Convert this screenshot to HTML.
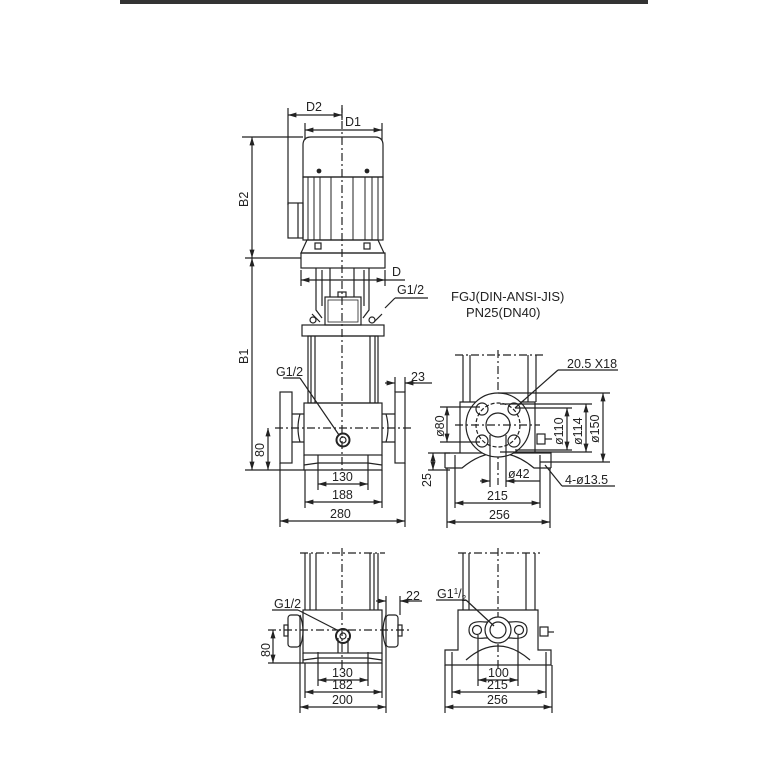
<!DOCTYPE html>
<html><head><meta charset="utf-8"><style>
html,body{margin:0;padding:0;background:#fff;}
svg{display:block;}
text{font-family:"Liberation Sans",sans-serif;fill:#222;}
</style></head><body>
<svg width="768" height="768" viewBox="0 0 768 768" xmlns="http://www.w3.org/2000/svg">
<defs>
<marker id="a" viewBox="0 0 10 10" refX="10" refY="5" markerWidth="7" markerHeight="7" orient="auto-start-reverse"><path d="M0,2 L10,5 L0,8 z" fill="#222"/></marker>
</defs>
<rect x="120" y="0" width="528" height="4" fill="#333"/>
<g stroke="#222" stroke-width="1.2" fill="none">
<line x1="342" y1="105" x2="342" y2="470" stroke-dasharray="8,3,2,3"/>
<path d="M303,177 L303,145 Q303,137 311,137 L375,137 Q383,137 383,145 L383,177 Z"/>
<rect x="303" y="177" width="80" height="63"/>
<g stroke-width="1">
<line x1="308" y1="177" x2="308" y2="240"/><line x1="314" y1="177" x2="314" y2="240"/>
<line x1="320" y1="177" x2="320" y2="240"/><line x1="331" y1="177" x2="331" y2="240"/>
<line x1="353" y1="177" x2="353" y2="240"/><line x1="365" y1="177" x2="365" y2="240"/>
<line x1="372" y1="177" x2="372" y2="240"/><line x1="378" y1="177" x2="378" y2="240"/>
</g>
<circle cx="319" cy="171" r="1.8" fill="#222"/><circle cx="367" cy="171" r="1.8" fill="#222"/>
<rect x="288" y="203" width="15" height="35"/><line x1="298" y1="203" x2="298" y2="238"/>
<path d="M307,240 L378,240 L384,253 L301,253 Z"/>
<rect x="315" y="243" width="6" height="6"/><rect x="364" y="243" width="6" height="6"/>
<rect x="301" y="253" width="84" height="15"/>
<path d="M316,268 L316,310 L322,318 M369,268 L369,310 L363,318"/>
<path d="M322,270 L322,306 M364,270 L364,306"/>
<line x1="330" y1="268" x2="330" y2="297"/><line x1="354" y1="268" x2="354" y2="297"/>
<rect x="325" y="297" width="36" height="28"/>
<rect x="328" y="300" width="30" height="22" stroke-width="0.8"/>
<rect x="338" y="292" width="8" height="5"/>
<path d="M312,314 L320,322 M374,322 L382,314"/>
<circle cx="313" cy="320" r="3"/><circle cx="372" cy="320" r="3"/>
<rect x="302" y="325" width="82" height="11"/>
<rect x="308" y="336" width="70" height="67"/>
<line x1="311" y1="336" x2="311" y2="403"/><line x1="315" y1="336" x2="315" y2="403"/>
<line x1="370" y1="336" x2="370" y2="403"/><line x1="375" y1="336" x2="375" y2="403"/>
<rect x="304" y="403" width="78" height="52"/>
<path d="M304,455 L304,470 L382,470 L382,455"/>
<path d="M304,465 L318,463 L368,463 L382,465"/>
<rect x="280" y="392" width="12" height="71"/><path d="M292,414 L304,414 M292,442 L304,442 M300,414 Q296,428 300,442"/>
<rect x="395" y="392" width="10" height="71"/><path d="M382,414 L395,414 M382,442 L395,442 M386,414 Q390,428 386,442"/>
<line x1="275" y1="428" x2="412" y2="428" stroke-dasharray="8,3,2,3"/>
<circle cx="343" cy="440" r="6.5" stroke-width="2"/><circle cx="343" cy="440" r="3"/>
<line x1="283" y1="378" x2="300" y2="378"/><line x1="300" y1="378" x2="339" y2="435"/>
<line x1="288" y1="108" x2="288" y2="205"/><line x1="342" y1="108" x2="342" y2="120"/>
<line x1="288" y1="115" x2="342" y2="115" marker-start="url(#a)" marker-end="url(#a)"/>
<line x1="305" y1="123" x2="305" y2="140"/><line x1="382" y1="123" x2="382" y2="140"/>
<line x1="305" y1="130" x2="382" y2="130" marker-start="url(#a)" marker-end="url(#a)"/>
<line x1="242" y1="137" x2="303" y2="137"/><line x1="245" y1="258" x2="301" y2="258"/>
<line x1="252" y1="137" x2="252" y2="258" marker-start="url(#a)" marker-end="url(#a)"/>
<line x1="252" y1="258" x2="252" y2="470" marker-start="url(#a)" marker-end="url(#a)"/>
<line x1="245" y1="470" x2="304" y2="470"/>
<line x1="268" y1="428" x2="268" y2="470" marker-start="url(#a)" marker-end="url(#a)"/>
<line x1="301" y1="270" x2="301" y2="286"/><line x1="385" y1="270" x2="385" y2="286"/>
<line x1="301" y1="280" x2="385" y2="280" marker-start="url(#a)" marker-end="url(#a)"/>
<line x1="385" y1="280" x2="405" y2="280"/>
<line x1="385" y1="308" x2="395" y2="298"/><line x1="395" y1="298" x2="428" y2="298"/>
<line x1="395" y1="377" x2="395" y2="392"/><line x1="405" y1="377" x2="405" y2="392"/>
<line x1="385" y1="383" x2="395" y2="383" marker-end="url(#a)"/><line x1="415" y1="383" x2="405" y2="383" marker-end="url(#a)"/>
<line x1="405" y1="383" x2="432" y2="383"/>
<line x1="318" y1="455" x2="318" y2="490"/><line x1="368" y1="455" x2="368" y2="490"/>
<line x1="318" y1="484" x2="368" y2="484" marker-start="url(#a)" marker-end="url(#a)"/>
<line x1="305" y1="470" x2="305" y2="508"/><line x1="382" y1="470" x2="382" y2="508"/>
<line x1="305" y1="502" x2="382" y2="502" marker-start="url(#a)" marker-end="url(#a)"/>
<line x1="280" y1="463" x2="280" y2="527"/><line x1="405" y1="463" x2="405" y2="527"/>
<line x1="280" y1="521" x2="405" y2="521" marker-start="url(#a)" marker-end="url(#a)"/>

<line x1="455" y1="355" x2="545" y2="355" stroke-dasharray="8,3,2,3"/>
<line x1="498" y1="350" x2="498" y2="485" stroke-dasharray="8,3,2,3"/>
<line x1="463" y1="355" x2="463" y2="402"/><line x1="470" y1="355" x2="470" y2="402"/>
<line x1="528" y1="355" x2="528" y2="402"/><line x1="536" y1="355" x2="536" y2="402"/>
<path d="M460,453 L460,402 L535,402 L535,453"/>
<path d="M445,468 L445,453 L551,453 L551,468"/>
<path d="M445,468 L462,468 Q498,438 534,468 L551,468"/>
<circle cx="498" cy="425" r="32" fill="#fff"/>
<circle cx="498" cy="425" r="22" stroke-dasharray="4,2"/>
<circle cx="498" cy="425" r="12"/>
<circle cx="482" cy="409" r="6"/><circle cx="514" cy="409" r="6"/>
<circle cx="482" cy="441" r="6"/><circle cx="514" cy="441" r="6"/>
<line x1="455" y1="425" x2="540" y2="425" stroke-dasharray="8,3,2,3"/>
<rect x="537" y="434" width="8" height="10"/><line x1="545" y1="439" x2="552" y2="439"/>
<line x1="440" y1="407" x2="480" y2="407"/><line x1="440" y1="442" x2="480" y2="442"/>
<line x1="447" y1="407" x2="447" y2="442" marker-start="url(#a)" marker-end="url(#a)"/>
<line x1="515" y1="408" x2="572" y2="408"/><line x1="515" y1="450" x2="572" y2="450"/>
<line x1="567" y1="408" x2="567" y2="450" marker-start="url(#a)" marker-end="url(#a)"/>
<line x1="500" y1="404" x2="592" y2="404"/><line x1="500" y1="452" x2="592" y2="452"/>
<line x1="586" y1="404" x2="586" y2="452" marker-start="url(#a)" marker-end="url(#a)"/>
<line x1="498" y1="393" x2="610" y2="393"/><line x1="540" y1="462" x2="610" y2="462"/>
<line x1="603" y1="393" x2="603" y2="462" marker-start="url(#a)" marker-end="url(#a)"/>
<line x1="490" y1="435" x2="490" y2="487"/><line x1="506" y1="435" x2="506" y2="487"/>
<line x1="480" y1="481" x2="490" y2="481" marker-end="url(#a)"/><line x1="516" y1="481" x2="506" y2="481" marker-end="url(#a)"/>
<line x1="506" y1="481" x2="540" y2="481"/>
<line x1="428" y1="453" x2="450" y2="453"/><line x1="428" y1="470" x2="450" y2="470"/>
<line x1="433" y1="453" x2="433" y2="470" marker-start="url(#a)" marker-end="url(#a)"/>
<line x1="455" y1="455" x2="455" y2="508"/><line x1="540" y1="455" x2="540" y2="508"/>
<line x1="455" y1="503" x2="540" y2="503" marker-start="url(#a)" marker-end="url(#a)"/>
<line x1="447" y1="468" x2="447" y2="528"/><line x1="550" y1="468" x2="550" y2="528"/>
<line x1="447" y1="522" x2="550" y2="522" marker-start="url(#a)" marker-end="url(#a)"/>
<line x1="515" y1="408" x2="558" y2="370"/><line x1="558" y1="370" x2="618" y2="370"/>
<line x1="545" y1="465" x2="562" y2="486"/><line x1="562" y1="486" x2="615" y2="486"/>

<line x1="300" y1="553" x2="385" y2="553" stroke-dasharray="8,3,2,3"/>
<line x1="342" y1="548" x2="342" y2="668" stroke-dasharray="8,3,2,3"/>
<line x1="305" y1="553" x2="305" y2="610"/><line x1="310" y1="553" x2="310" y2="610"/><line x1="316" y1="553" x2="316" y2="610"/>
<line x1="370" y1="553" x2="370" y2="610"/><line x1="374" y1="553" x2="374" y2="610"/><line x1="378" y1="553" x2="378" y2="610"/>
<rect x="303" y="610" width="79" height="43"/>
<path d="M303,653 L303,663 L382,663 L382,653 M303,660 L318,658 L368,658 L382,660"/>
<path d="M338,653 L338,638 M348,653 L348,638"/>
<rect x="288" y="615" width="12" height="32" rx="3"/><path d="M300,615 Q306,631 300,647"/>
<rect x="386" y="615" width="12" height="32" rx="3"/><path d="M386,615 Q380,631 386,647"/>
<rect x="284" y="625" width="4" height="11"/><rect x="398" y="625" width="4" height="11"/>
<line x1="268" y1="630" x2="410" y2="630" stroke-dasharray="8,3,2,3"/>
<circle cx="343" cy="636" r="7" stroke-width="2"/><circle cx="343" cy="636" r="3"/>
<line x1="272" y1="610" x2="298" y2="610"/><line x1="298" y1="610" x2="339" y2="631"/>
<line x1="273" y1="630" x2="273" y2="663" marker-start="url(#a)" marker-end="url(#a)"/>
<line x1="268" y1="663" x2="303" y2="663"/>
<line x1="386" y1="596" x2="386" y2="615"/><line x1="400" y1="596" x2="400" y2="615"/>
<line x1="376" y1="601" x2="386" y2="601" marker-end="url(#a)"/><line x1="410" y1="601" x2="400" y2="601" marker-end="url(#a)"/>
<line x1="400" y1="601" x2="422" y2="601"/>
<line x1="318" y1="652" x2="318" y2="686"/><line x1="368" y1="652" x2="368" y2="686"/>
<line x1="318" y1="680" x2="368" y2="680" marker-start="url(#a)" marker-end="url(#a)"/>
<line x1="305" y1="663" x2="305" y2="698"/><line x1="382" y1="663" x2="382" y2="698"/>
<line x1="305" y1="692" x2="382" y2="692" marker-start="url(#a)" marker-end="url(#a)"/>
<line x1="300" y1="647" x2="300" y2="713"/><line x1="386" y1="647" x2="386" y2="713"/>
<line x1="300" y1="707" x2="386" y2="707" marker-start="url(#a)" marker-end="url(#a)"/>

<line x1="458" y1="553" x2="540" y2="553" stroke-dasharray="8,3,2,3"/>
<line x1="498" y1="548" x2="498" y2="668" stroke-dasharray="8,3,2,3"/>
<line x1="463" y1="553" x2="463" y2="610"/><line x1="469" y1="553" x2="469" y2="610"/>
<line x1="526" y1="553" x2="526" y2="610"/><line x1="535" y1="553" x2="535" y2="610"/>
<path d="M445,665 L445,650 L458,650 L458,610 L538,610 L538,650 L551,650 L551,665 Z"/>
<path d="M466,660 Q498,632 530,660"/>
<path d="M485,622 L511,622 Q527,620 527,630 Q527,640 511,638 L485,638 Q469,640 469,630 Q469,620 485,622 Z" fill="#fff"/>
<circle cx="498" cy="630" r="13" fill="#fff"/><circle cx="498" cy="630" r="8"/>
<circle cx="477" cy="630" r="4.5"/><circle cx="519" cy="630" r="4.5"/>
<rect x="540" y="627" width="8" height="9"/><line x1="548" y1="632" x2="554" y2="632"/>
<line x1="436" y1="600" x2="466" y2="600"/><line x1="466" y1="600" x2="494" y2="626"/>
<line x1="478" y1="635" x2="478" y2="686"/><line x1="518" y1="635" x2="518" y2="686"/>
<line x1="478" y1="680" x2="518" y2="680" marker-start="url(#a)" marker-end="url(#a)"/>
<line x1="452" y1="652" x2="452" y2="698"/><line x1="546" y1="652" x2="546" y2="698"/>
<line x1="452" y1="692" x2="546" y2="692" marker-start="url(#a)" marker-end="url(#a)"/>
<line x1="445" y1="665" x2="445" y2="713"/><line x1="552" y1="665" x2="552" y2="713"/>
<line x1="445" y1="707" x2="552" y2="707" marker-start="url(#a)" marker-end="url(#a)"/>
</g>
<g font-size="12.5">
<text x="306" y="111">D2</text>
<text x="345" y="126">D1</text>
<text x="392" y="276">D</text>
<text x="397" y="294">G1/2</text>
<text x="276" y="376">G1/2</text>
<text x="411" y="381">23</text>
<text x="248" y="207" transform="rotate(-90 248 207)">B2</text>
<text x="248" y="364" transform="rotate(-90 248 364)">B1</text>
<text x="264" y="457" transform="rotate(-90 264 457)">80</text>
<text x="332" y="481">130</text>
<text x="332" y="499">188</text>
<text x="330" y="518">280</text>
<text x="451" y="301" font-size="13">FGJ(DIN-ANSI-JIS)</text>
<text x="466" y="317" font-size="13">PN25(DN40)</text>
<text x="567" y="368">20.5 X18</text>
<text x="444" y="437" transform="rotate(-90 444 437)">ø80</text>
<text x="563" y="445" transform="rotate(-90 563 445)">ø110</text>
<text x="582" y="445" transform="rotate(-90 582 445)">ø114</text>
<text x="599" y="443" transform="rotate(-90 599 443)">ø150</text>
<text x="508" y="478">ø42</text>
<text x="431" y="487" transform="rotate(-90 431 487)">25</text>
<text x="487" y="500">215</text>
<text x="489" y="519">256</text>
<text x="565" y="484">4-ø13.5</text>
<text x="274" y="608">G1/2</text>
<text x="406" y="600">22</text>
<text x="270" y="657" transform="rotate(-90 270 657)">80</text>
<text x="332" y="677">130</text>
<text x="332" y="689">182</text>
<text x="332" y="704">200</text>
<text x="437" y="598">G1<tspan font-size="8" dy="-4">1</tspan><tspan dy="4">/</tspan><tspan font-size="8" dy="3">2</tspan></text>
<text x="488" y="677">100</text>
<text x="487" y="689">215</text>
<text x="487" y="704">256</text>
</g>
</svg>
</body></html>
